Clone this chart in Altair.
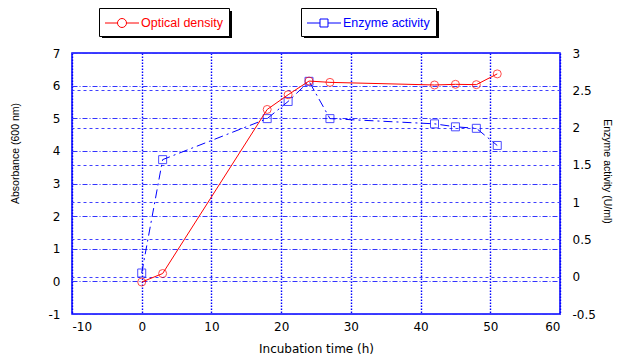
import altair as alt
import pandas as pd

# ---- data ----
time_h = [0, 3, 18, 21, 24, 27, 42, 45, 48, 51]
optical_density = [-0.02, 0.24, 5.27, 5.72, 6.14, 6.10, 6.02, 6.04, 6.03, 6.36]
enzyme_activity = [0.05, 1.57, 2.12, 2.35, 2.62, 2.12, 2.05, 2.01, 1.99, 1.76]

x_ticks = [-10, 0, 10, 20, 30, 40, 50, 60]
left_ticks = [-1, 0, 1, 2, 3, 4, 5, 6, 7]
right_ticks = [-0.5, 0, 0.5, 1, 1.5, 2, 2.5, 3]

RED = "#ff0000"
BLUE = "#0000ff"
SANS = "Liberation Sans, Arial, sans-serif"
WIDE = "DejaVu Sans, Verdana, sans-serif"

df = pd.DataFrame({
    "t": time_h,
    "od": optical_density,
    "enz": enzyme_activity,
    "od_name": ["Optical density"] * len(time_h),
    "enz_name": ["Enzyme activity"] * len(time_h),
})

# legend symbols: line with marker in the middle (normalised units, 8.5 px per unit)
circ_sym = "M-2,0L-0.53,0M0.53,0L2,0M-0.53,0A0.53,0.53 0 1,1 0.53,0A0.53,0.53 0 1,1 -0.53,0"
sq_sym = "M-2,0L-0.47,0M0.47,0L2,0M-0.47,-0.47L0.47,-0.47L0.47,0.47L-0.47,0.47Z"

xs = alt.Scale(domain=[-10, 60], nice=False, zero=False)
ls = alt.Scale(domain=[-1, 7], nice=False, zero=False)
rs = alt.Scale(domain=[-0.5, 3], nice=False, zero=False)

x_axis = alt.Axis(values=x_ticks, title="Incubation time (h)", grid=True,
                  gridColor=BLUE, gridDash=[1.5, 1.5], gridWidth=1.4,
                  labelPadding=7, labelExpr="datum.value + ''",
                  titleFont=WIDE, titleFontSize=12,
                  titleFontWeight="normal", titleY=34, titleBaseline="middle")
x_enc = alt.X("t:Q", scale=xs, axis=x_axis)

y_left = alt.Y("od:Q", scale=ls,
               axis=alt.Axis(orient="left", values=left_ticks, title="Absorbance (600 nm)",
                             grid=True, gridColor="#3333ff", gridDash=[5, 2, 1, 2], gridWidth=1,
                             labelPadding=12, labelExpr="datum.value + ''",
                             titleFont=SANS, titleFontSize=10.5,
                             titleFontWeight="normal", titleAngle=270, titleX=-57, titleY=100,
                             titleAlign="center", titleBaseline="middle"))
y_left_plain = alt.Y("od:Q", scale=ls, axis=None)

y_right = alt.Y("enz:Q", scale=rs,
                axis=alt.Axis(orient="right", values=right_ticks, title="Enzyme activity (U/ml)",
                              grid=True, gridColor="#4040ff", gridDash=[3, 3], gridWidth=1,
                              labelPadding=12, labelExpr="datum.value + ''",
                              titleFont=SANS, titleFontSize=10.5,
                              titleFontWeight="normal", titleAngle=90, titleX=46, titleY=118,
                              titleAlign="center", titleBaseline="middle"))
y_right_plain = alt.Y("enz:Q", scale=rs, axis=None)

legend_common = dict(orient="none", title=None, strokeColor="black", fillColor="white",
                     padding=6, labelFont=SANS, labelFontSize=12.5, labelOffset=10,
                     symbolOffset=8, symbolSize=289, symbolStrokeWidth=1,
                     symbolFillColor="white")

red_line = alt.Chart(df).mark_line(strokeWidth=1).encode(
    x=x_enc, y=y_left,
    color=alt.Color("od_name:N", scale=alt.Scale(domain=["Optical density"], range=[RED]),
                    legend=alt.Legend(legendX=27, legendY=-45, symbolType=circ_sym,
                                      labelColor=RED, **legend_common)))
red_pts = alt.Chart(df).mark_point(shape="circle", filled=False, size=64, strokeWidth=1,
                                   color=RED).encode(x=x_enc, y=y_left_plain)

blue_line = alt.Chart(df).mark_line(strokeWidth=1, strokeDash=[9, 4, 2, 4]).encode(
    x=x_enc, y=y_right,
    color=alt.Color("enz_name:N", scale=alt.Scale(domain=["Enzyme activity"], range=[BLUE]),
                    legend=alt.Legend(legendX=229, legendY=-45, symbolType=sq_sym,
                                      labelColor=BLUE, **legend_common)))
blue_pts = alt.Chart(df).mark_point(shape="square", filled=False, size=64, strokeWidth=1,
                                    color=BLUE).encode(x=x_enc, y=y_right_plain)

shadow_df = pd.DataFrame({"k": [0]})
shadow1 = alt.Chart(shadow_df).mark_rect(color="black").encode(
    x=alt.value(30), x2=alt.value(160), y=alt.value(-42), y2=alt.value(-15))
shadow2 = alt.Chart(shadow_df).mark_rect(color="black").encode(
    x=alt.value(232), x2=alt.value(367), y=alt.value(-42), y2=alt.value(-15))

chart = alt.layer(blue_line, blue_pts, red_line, red_pts, shadow1, shadow2).resolve_scale(
    y="independent", color="independent"
).properties(
    width=488, height=261,
    autosize=alt.AutoSizeParams(type="none"),
    padding={"left": 64, "top": 45, "right": 54, "bottom": 41},
    background="white",
).configure_view(
    stroke=BLUE, strokeWidth=1.5
).configure_axis(
    domain=False, ticks=False, labelFont=WIDE, labelFontSize=12, labelColor="black",
    titleColor="black",
)

chart.save("out.html", embed_options={"renderer": "svg", "actions": False})
